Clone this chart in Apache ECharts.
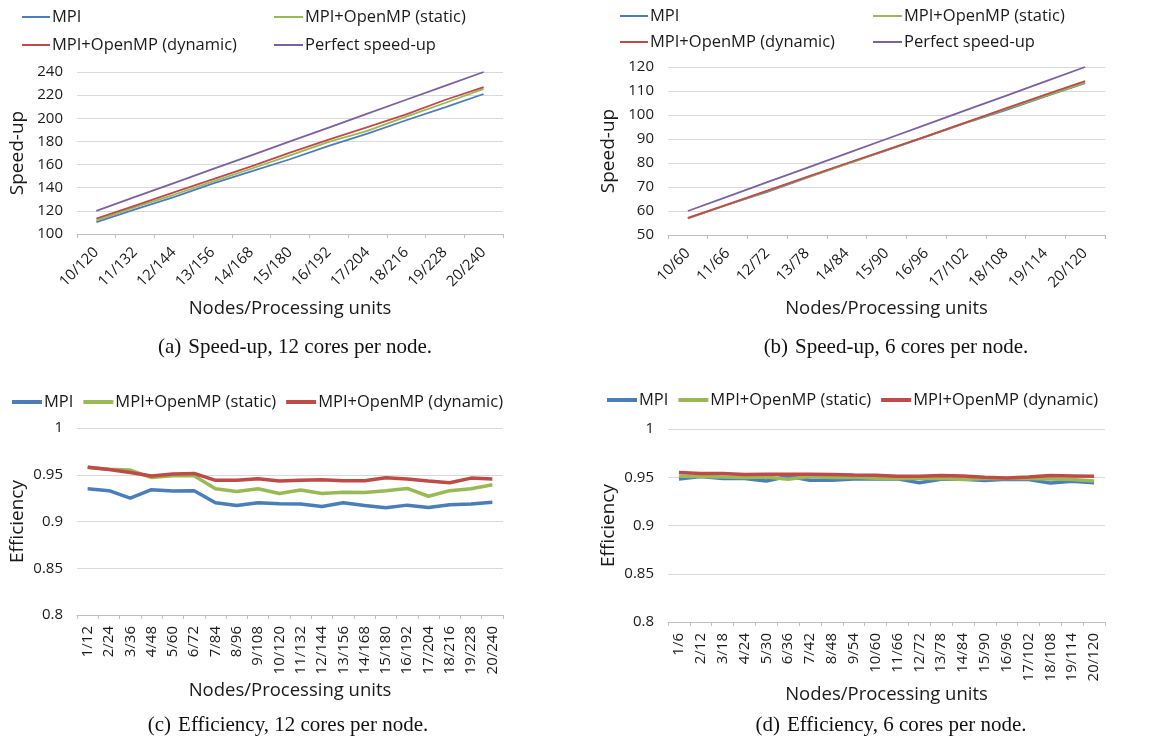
<!DOCTYPE html>
<html>
<head>
<meta charset="utf-8">
<script src="https://cdn.jsdelivr.net/npm/echarts@6/dist/echarts.min.js"></script>
<style>html,body{margin:0;padding:0;background:#fff;}#c{width:1169px;height:739px;}</style>
</head>
<body>
<div id="c"></div>
<script>
// ---- Data ----
const catsA = ['10/120','11/132','12/144','13/156','14/168','15/180','16/192','17/204','18/216','19/228','20/240'];
const speedA_MPI = [110.3,121.3,131.9,143.5,154.1,164.6,176.2,186.7,198.3,209.4,221.0];
const speedA_Static = [111.6,123.2,133.9,145.3,156.4,167.9,179.6,189.1,201.5,213.2,225.4];
const speedA_Dynamic = [113.2,124.6,136.0,147.2,158.5,170.4,181.5,192.4,203.3,215.8,226.9];
const speedA_Perfect = [120,132,144,156,168,180,192,204,216,228,240];

const catsB = ['10/60','11/66','12/72','13/78','14/84','15/90','16/96','17/102','18/108','19/114','20/120'];
const speedB_MPI = [56.9,62.6,68.0,73.9,79.6,85.2,91.0,96.7,102.0,107.8,113.3];
const speedB_Static = [56.9,62.6,68.3,74.0,79.6,85.4,91.1,96.8,102.4,108.0,113.5];
const speedB_Dynamic = [57.1,62.8,68.5,74.2,79.9,85.5,91.1,96.9,102.8,108.5,114.1];
const speedB_Perfect = [60,66,72,78,84,90,96,102,108,114,120];

const catsC = ['1/12','2/24','3/36','4/48','5/60','6/72','7/84','8/96','9/108','10/120','11/132','12/144','13/156','14/168','15/180','16/192','17/204','18/216','19/228','20/240'];
const effC_MPI = [0.935,0.933,0.925,0.934,0.9325,0.933,0.920,0.917,0.920,0.919,0.9186,0.916,0.920,0.917,0.9146,0.9175,0.915,0.918,0.9186,0.9207];
const effC_Static = [0.958,0.956,0.955,0.947,0.949,0.949,0.935,0.932,0.935,0.930,0.9336,0.930,0.9314,0.931,0.9329,0.9354,0.927,0.933,0.935,0.9393];
const effC_Dynamic = [0.958,0.9557,0.9525,0.9486,0.9507,0.9514,0.944,0.944,0.9457,0.9432,0.944,0.9446,0.9436,0.9436,0.9468,0.9454,0.9432,0.9414,0.9464,0.9454];

const catsD = ['1/6','2/12','3/18','4/24','5/30','6/36','7/42','8/48','9/54','10/60','11/66','12/72','13/78','14/84','15/90','16/96','17/102','18/108','19/114','20/120'];
const effD_MPI = [0.9483,0.9507,0.9486,0.9486,0.9462,0.951,0.9469,0.9469,0.9483,0.9483,0.9483,0.9444,0.9479,0.9479,0.9465,0.9479,0.9476,0.9441,0.9458,0.9444];
const effD_Static = [0.951,0.9507,0.9503,0.9497,0.9503,0.9479,0.9507,0.9497,0.95,0.949,0.9486,0.9486,0.9486,0.9476,0.9486,0.9486,0.9486,0.9483,0.9476,0.9462];
const effD_Dynamic = [0.9549,0.9538,0.9538,0.9528,0.9531,0.9531,0.9531,0.9528,0.9524,0.9521,0.951,0.951,0.9517,0.9514,0.95,0.9493,0.9503,0.9517,0.9514,0.951];

const yTicksA = {min:100,max:240,interval:20};
const yTicksB = {min:50,max:120,interval:10};
const yTicksE = {min:0.8,max:1,interval:0.05};

const captions = ['(a) \u200aSpeed-up, 12 cores per node.','(b) \u200aSpeed-up, 6 cores per node.','(c) \u200aEfficiency, 12 cores per node.','(d) \u200aEfficiency, 6 cores per node.'];

// ---- Styles ----
const C_MPI='#4a7ebb', C_ST='#98b954', C_DY='#be4b48', C_PF='#7d60a0';
const FONT='"Open Sans", sans-serif';
const TXT='#1a1a1a';
const N_MPI='MPI', N_ST='MPI+OpenMP (static)', N_DY='MPI+OpenMP (dynamic)', N_PF='Perfect speed-up';

function xAx(gi, cats, rot, gap, margin){
  return {type:'category', gridIndex:gi, data:cats, boundaryGap:true,
    axisLine:{lineStyle:{color:'#bfbfbf'}},
    axisTick:{show:true, length:4, lineStyle:{color:'#bfbfbf'}},
    axisLabel:{interval:0, rotate:rot, fontFamily:FONT, fontSize:15, color:TXT, margin:margin},
    name:'Nodes/Processing units', nameLocation:'middle', nameGap:gap,
    nameTextStyle:{fontFamily:FONT, fontSize:18.5, color:TXT}};
}
function yAx(gi, t, name, dec){
  return {type:'value', gridIndex:gi, min:t.min, max:t.max, interval:t.interval,
    axisLine:{show:false}, axisTick:{show:false},
    splitLine:{lineStyle:{color:'#d9d9d9'}},
    axisLabel:{fontFamily:FONT, fontSize:15, color:TXT, margin:14,
      formatter: v => dec ? String(+v.toFixed(2)) : String(v)},
    name:name, nameLocation:'middle', nameGap:50,
    nameTextStyle:{fontFamily:FONT, fontSize:19, color:TXT}};
}
function ln(name, data, gi, color, w){
  return {type:'line', name:name, data:data, xAxisIndex:gi, yAxisIndex:gi,
    showSymbol:false, symbol:'none', color:color, lineStyle:{color:color, width:w}, z: 3};
}
function leg(left, top, data, orient, gap, ih, iw){
  return {left:left, top:top, orient:orient, data:data, itemGap:gap,
    icon:'rect', itemWidth:iw, itemHeight:ih, padding:0, selectedMode:false,
    textStyle:{fontFamily:FONT, fontSize:16.5, color:TXT, lineHeight:20, padding:[0,0,0,-3]}};
}
function cap(text, cx, top){
  return {text:text, left:cx, top:top, textAlign:'center', padding:0,
    textStyle:{fontFamily:'"Liberation Serif", "Times New Roman", serif', fontSize:21, fontWeight:'normal', color:'#111'}};
}

const option = {
  animation:false,
  title:[cap(captions[0],295,337), cap(captions[1],896,337), cap(captions[2],288,715), cap(captions[3],891,715)],
  legend:[
    leg(22, 7, [N_MPI,N_DY], 'vertical', 8, 2, 28),
    leg(274, 7, [N_ST,N_PF], 'vertical', 8, 2, 29),
    leg(620, 6, [N_MPI,N_DY], 'vertical', 6, 2, 28),
    leg(873, 6, [N_ST,N_PF], 'vertical', 6, 2, 29),
    leg(12, 392, [N_MPI,N_ST,N_DY], 'horizontal', 10, 4, 30),
    leg(607, 390, [N_MPI,N_ST,N_DY], 'horizontal', 10, 4, 30)
  ],
  grid:[
    {left:77, top:72, width:426, height:162},
    {left:668, top:67, width:437, height:168},
    {left:77, top:428, width:426, height:187},
    {left:668, top:429, width:437, height:193}
  ],
  xAxis:[xAx(0,catsA,45,65,16), xAx(1,catsB,45,64,16), xAx(2,catsC,90,66,11), xAx(3,catsD,90,53,11)],
  yAxis:[yAx(0,yTicksA,'Speed-up',false), yAx(1,yTicksB,'Speed-up',false), yAx(2,yTicksE,'Efficiency',true), yAx(3,yTicksE,'Efficiency',true)],
  series:[
    ln(N_MPI, speedA_MPI, 0, C_MPI, 1.8),
    ln(N_ST, speedA_Static, 0, C_ST, 1.8),
    ln(N_DY, speedA_Dynamic, 0, C_DY, 1.8),
    ln(N_PF, speedA_Perfect, 0, C_PF, 1.8),
    ln(N_MPI, speedB_MPI, 1, C_MPI, 1.8),
    ln(N_ST, speedB_Static, 1, C_ST, 1.8),
    ln(N_DY, speedB_Dynamic, 1, C_DY, 1.8),
    ln(N_PF, speedB_Perfect, 1, C_PF, 1.8),
    ln(N_MPI, effC_MPI, 2, C_MPI, 3.5),
    ln(N_ST, effC_Static, 2, C_ST, 3.5),
    ln(N_DY, effC_Dynamic, 2, C_DY, 3.5),
    ln(N_MPI, effD_MPI, 3, C_MPI, 3.5),
    ln(N_ST, effD_Static, 3, C_ST, 3.5),
    ln(N_DY, effD_Dynamic, 3, C_DY, 3.5)
  ]
};
const chart = echarts.init(document.getElementById('c'), null, {renderer:'canvas'});
chart.setOption(option);
</script>
</body>
</html>
